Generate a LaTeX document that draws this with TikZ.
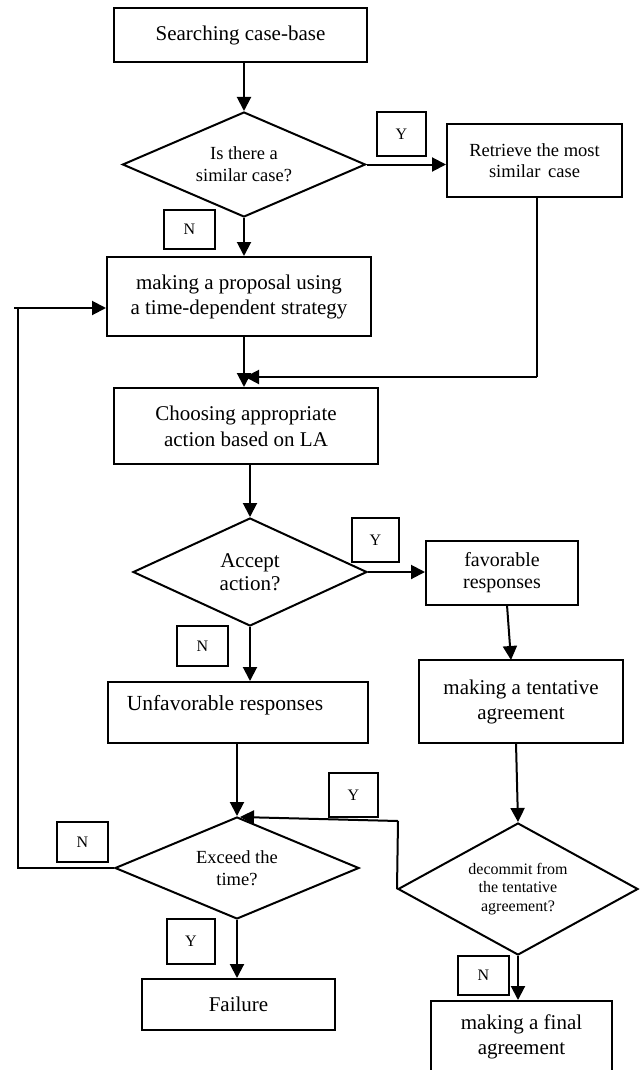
\documentclass[tikz,border=0pt]{standalone}
\usepackage{fontspec}
\setmainfont{Liberation Serif}
\usetikzlibrary{shapes.geometric,arrows.meta}
\begin{document}
\begin{tikzpicture}[x=1pt,y=-1pt,
  box/.style={draw, line width=2pt, rectangle, inner sep=0pt, align=center, font=\fontsize{21}{25}\selectfont},
  dia/.style={draw, diamond, line width=2pt, inner sep=0pt, align=center},
  lab/.style={draw, line width=1.8pt, rectangle, inner sep=0pt, font=\fontsize{16}{18}\selectfont},
  arr/.style={line width=2pt, -{Triangle[length=14pt,width=14pt]}},
  ln/.style={line width=2pt}]
\useasboundingbox (0,0) rectangle (644,1070);
\clip (0,0) rectangle (644,1070);
\fill[white] (0,0) rectangle (644,1070);

% boxes
\node[box, minimum width=253pt, minimum height=54pt] (search) at (240.5,35) {Searching case-base};
\node[dia, aspect=2.31, minimum width=243pt, minimum height=105pt, font=\fontsize{18.5}{22}\selectfont] (d1) at (244,164.5) {Is there a\\similar case?};
\node[lab, minimum width=49pt, minimum height=44pt] (y1) at (401.5,134) {Y};
\node[box, minimum width=175pt, minimum height=73pt, font=\fontsize{18.5}{21}\selectfont] (retr) at (534.5,160.5) {Retrieve the most\\similar\, case};
\node[lab, minimum width=51pt, minimum height=39pt] (n1) at (189.5,229.5) {N};
\node[box, minimum width=264pt, minimum height=79pt] (prop) at (239,296.5) {making a proposal using\\a time-dependent strategy};
\node[box, minimum width=264pt, minimum height=76pt, font=\fontsize{21}{26}\selectfont] (choose) at (246,426) {Choosing appropriate\\action based on LA};
\node[dia, aspect=2.17, minimum width=234pt, minimum height=108pt, font=\fontsize{21}{23}\selectfont] (acc) at (250,572) {Accept\\action?};
\node[lab, minimum width=47pt, minimum height=44pt] (y2) at (375.5,540) {Y};
\node[box, minimum width=152pt, minimum height=64pt, font=\fontsize{20}{22}\selectfont] (fav) at (502,573) {favorable\\responses};
\node[box, minimum width=204pt, minimum height=83pt] (tent) at (521,701.5) {making a tentative\\agreement};
\node[lab, minimum width=51pt, minimum height=40pt] (n2) at (202.5,646) {N};
\node[draw, line width=2pt, rectangle, minimum width=260pt, minimum height=61pt] (unf) at (238,712.5) {};
\node[font=\fontsize{21.5}{25}\selectfont, inner sep=0pt] (unft) at (225,705) {Unfavorable responses};
\node[dia, aspect=2.39, minimum width=244pt, minimum height=102pt, font=\fontsize{18.5}{22}\selectfont] (ex) at (237,868) {Exceed the\\time?};
\node[lab, minimum width=49pt, minimum height=44pt] (y3) at (353.5,795) {Y};
\node[dia, aspect=1.82, minimum width=240pt, minimum height=132pt, font=\fontsize{16}{18.5}\selectfont] (dec) at (518,889) {decommit from\\the tentative\\agreement?};
\node[lab, minimum width=51pt, minimum height=40pt] (n3) at (82.5,842) {N};
\node[lab, minimum width=48pt, minimum height=45pt] (y4) at (191,941.5) {Y};
\node[box, minimum width=193pt, minimum height=51pt] (fail) at (238.5,1004.5) {Failure};
\node[lab, minimum width=51pt, minimum height=39pt] (n4) at (483.5,975.5) {N};
\node[box, minimum width=181pt, minimum height=72pt] (final) at (521.5,1037) {making a final\\agreement};

% coordinates
\coordinate (c1) at (537,377);
\coordinate (c2) at (245,377);
\coordinate (c3) at (398,821);
\coordinate (c4) at (240,817);
\coordinate (lpA) at (18,868);
\coordinate (lpB) at (18,308);
\coordinate (lpC) at (14,308);

% connectors
\draw[arr] (d1.north |- search.south) -- (d1.north);
\draw[arr] (d1.east) -- (d1.east -| retr.west);
\draw[arr] (d1.south) -- (d1.south |- prop.north);
\draw[arr] (d1.south |- prop.south) -- (d1.south |- choose.north);
\draw[ln] (c1 |- retr.south) -- (c1);
\draw[arr] (c1) -- (c2);
\draw[arr] (acc.north |- choose.south) -- (acc.north);
\draw[arr] (acc.east) -- (acc.east -| fav.west);
\draw[arr] (507,605) -- (511,660);
\draw[arr] (516,743) -- (dec.north);
\draw[arr] (acc.south) -- (acc.south |- unf.north);
\draw[arr] (ex.north |- unf.south) -- (ex.north);
\draw[ln] (dec.west) -- (c3);
\draw[arr] (c3) -- (c4);
\draw[ln] (ex.west) -- (lpA) -- (lpB);
\draw[arr] (lpC) -- (lpC -| prop.west);
\draw[arr] (ex.south) -- (ex.south |- fail.north);
\draw[arr] (dec.south) -- (dec.south |- final.north);
\end{tikzpicture}
\end{document}
